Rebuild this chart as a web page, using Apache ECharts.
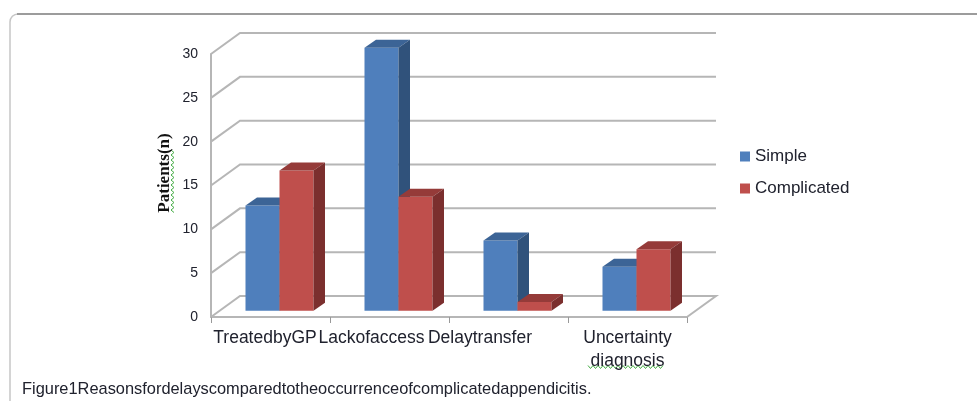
<!DOCTYPE html>
<html>
<head>
<meta charset="utf-8">
<title>Reasons for delays</title>
<style>
  html, body { margin: 0; padding: 0; background: #fff; }
  #chart { width: 977px; height: 401px; }
</style>
<script src="https://cdn.jsdelivr.net/npm/echarts@6/dist/echarts.min.js"></script>
</head>
<body>
<div id="chart"></div>
<script>
// data
var categories = ["TreatedbyGP", "Lackofaccess", "Delaytransfer", "Uncertainty\ndiagnosis"];
var simple = [12, 30, 8, 5];
var complicated = [16, 13, 1, 7];
var yTicks = [0, 5, 10, 15, 20, 25, 30];

// 3d look, pixels
var WALL_DX = 29, WALL_DY = 21;   // depth of the whole box
var BAR_OFF_DX = 9, BAR_OFF_DY = 6.3;  // bars stand a bit behind the front edge
var BAR_DX = 11.5, BAR_DY = 8;    // depth of one bar
var BAR_RATIO = 34 / 119;         // bar width / category width
var GRID_COLOR = "#b6b6b6";
var TEXT_COLOR = "#20222e";
var CAT_FONT = 17.5;

// left shift of the category labels, the source picture has them off centre
var labelPad = [11, 36, 57, 0];

function poly(points, fill) {
  return { type: "polygon", shape: { points: points }, style: { fill: fill } };
}

// one box per category. side: 0 = left bar of the pair, 1 = right bar
function barRenderer(side, front, top, right) {
  return function (params, api) {
    var p = api.coord([api.value(0), api.value(1)]);
    var base = api.coord([api.value(0), 0]);
    var w = api.size([1, 0])[0] * BAR_RATIO;
    var x0 = base[0] + BAR_OFF_DX - w + side * w;
    var x1 = x0 + w;
    var y0 = base[1] - BAR_OFF_DY;
    var y1 = p[1] - BAR_OFF_DY;
    return {
      type: "group",
      children: [
        poly([[x0, y0], [x1, y0], [x1, y1], [x0, y1]], front),
        poly([[x0, y1], [x1, y1], [x1 + BAR_DX, y1 - BAR_DY], [x0 + BAR_DX, y1 - BAR_DY]], top),
        poly([[x1, y0], [x1 + BAR_DX, y0 - BAR_DY], [x1 + BAR_DX, y1 - BAR_DY], [x1, y1]], right)
      ]
    };
  };
}

// gridlines going round the left wall and the back wall
function wallRenderer(params, api) {
  var y = api.coord([0, api.value(1)])[1];
  var left = params.coordSys.x;
  var right = left + params.coordSys.width;
  var pts = [[left, y], [left + WALL_DX, y - WALL_DY], [right + WALL_DX, y - WALL_DY]];
  if (api.value(1) === 0) pts.push([right, y]); // floor closes at the right
  return {
    type: "polyline",
    shape: { points: pts },
    style: { fill: null, stroke: GRID_COLOR, lineWidth: 2 }
  };
}

// spell check underline
function squiggle(x0, y0, len, vertical) {
  var pts = [];
  for (var i = 0; i <= len / 2.5; i++) {
    var along = i * 2.5;
    var off = i % 2 ? 1.5 : -1.5;
    pts.push(vertical ? [x0 + off, y0 + along] : [x0 + along, y0 + off]);
  }
  return {
    type: "polyline",
    silent: true,
    shape: { points: pts },
    style: { fill: null, stroke: "#45ad45", lineWidth: 1 }
  };
}

var chart = echarts.init(document.getElementById("chart"), null, { renderer: "canvas" });

chart.setOption({
  animation: false,
  backgroundColor: "#fff",
  textStyle: { fontFamily: "Liberation Sans" },
  title: {
    text: "Figure1Reasonsfordelayscomparedtotheoccurrenceofcomplicatedappendicitis.",
    left: 22,
    top: 381,
    padding: 0,
    textStyle: { fontFamily: "Liberation Sans", fontWeight: "normal", fontSize: 16.4, color: TEXT_COLOR }
  },
  legend: {
    data: ["Simple", "Complicated"],
    orient: "vertical",
    left: 740,
    top: 148,
    padding: 0,
    itemWidth: 10,
    itemHeight: 10,
    itemGap: 15,
    icon: "rect",
    textStyle: { fontFamily: "Liberation Sans", fontSize: 17, color: TEXT_COLOR }
  },
  grid: { left: 211, right: 290, top: 54, bottom: 84 },
  xAxis: {
    type: "category",
    data: categories,
    axisLine: { lineStyle: { color: GRID_COLOR, width: 2 } },
    axisTick: { show: true, alignWithLabel: false, length: 6, lineStyle: { color: "#999", width: 1 } },
    splitLine: { show: false },
    axisLabel: {
      interval: 0,
      margin: 10,
      hideOverlap: false,
      color: TEXT_COLOR,
      fontSize: CAT_FONT,
      lineHeight: 23,
      formatter: function (value, i) {
        return labelPad[i] ? "{t" + i + "|" + value + "}" : value;
      },
      rich: {
        t0: { fontSize: CAT_FONT, color: TEXT_COLOR, padding: [0, labelPad[0], 0, 0] },
        t1: { fontSize: CAT_FONT, color: TEXT_COLOR, padding: [0, labelPad[1], 0, 0] },
        t2: { fontSize: CAT_FONT, color: TEXT_COLOR, padding: [0, labelPad[2], 0, 0] }
      }
    }
  },
  yAxis: {
    type: "value",
    min: 0,
    max: 30,
    interval: 5,
    name: "Patients(n)",
    nameLocation: "middle",
    nameRotate: 90,
    nameGap: 38,
    nameTextStyle: {
      fontFamily: "Liberation Serif",
      fontWeight: "bold",
      fontSize: 17,
      color: "#111",
      padding: [0, 0, 0, 25]
    },
    axisLine: { show: true, lineStyle: { color: GRID_COLOR, width: 2 } },
    axisTick: { show: false },
    splitLine: { show: false },
    axisLabel: { margin: 13, color: TEXT_COLOR, fontSize: 14, padding: [0, 0, 5, 0] }
  },
  series: [
    {
      name: "walls",
      type: "custom",
      silent: true,
      renderItem: wallRenderer,
      encode: { x: 0, y: 1 },
      data: yTicks.map(function (v) { return [0, v]; }),
      z: 1
    },
    {
      name: "Simple",
      type: "custom",
      renderItem: barRenderer(0, "#4f7fbc", "#3c6496", "#30527b"),
      encode: { x: 0, y: 1 },
      itemStyle: { color: "#4f7fbc" },
      data: simple.map(function (v, i) { return [i, v]; }),
      z: 2
    },
    {
      name: "Complicated",
      type: "custom",
      renderItem: barRenderer(1, "#bf4f4c", "#953b39", "#7b2f2e"),
      encode: { x: 0, y: 1 },
      itemStyle: { color: "#bf4f4c" },
      data: complicated.map(function (v, i) { return [i, v]; }),
      z: 3
    }
  ],
  graphic: [
    {
      type: "rect",
      silent: true,
      shape: { x: 10, y: 14, width: 1100, height: 600, r: 8 },
      style: { fill: null, stroke: "#c6c6c6", lineWidth: 1.5 }
    },
    {
      type: "line",
      silent: true,
      shape: { x1: 17, y1: 14, x2: 977, y2: 14 },
      style: { stroke: "#9c9c9c", lineWidth: 2 }
    },
    squiggle(172.5, 150, 64, true),
    squiggle(588, 367, 76, false)
  ]
});
</script>
</body>
</html>
